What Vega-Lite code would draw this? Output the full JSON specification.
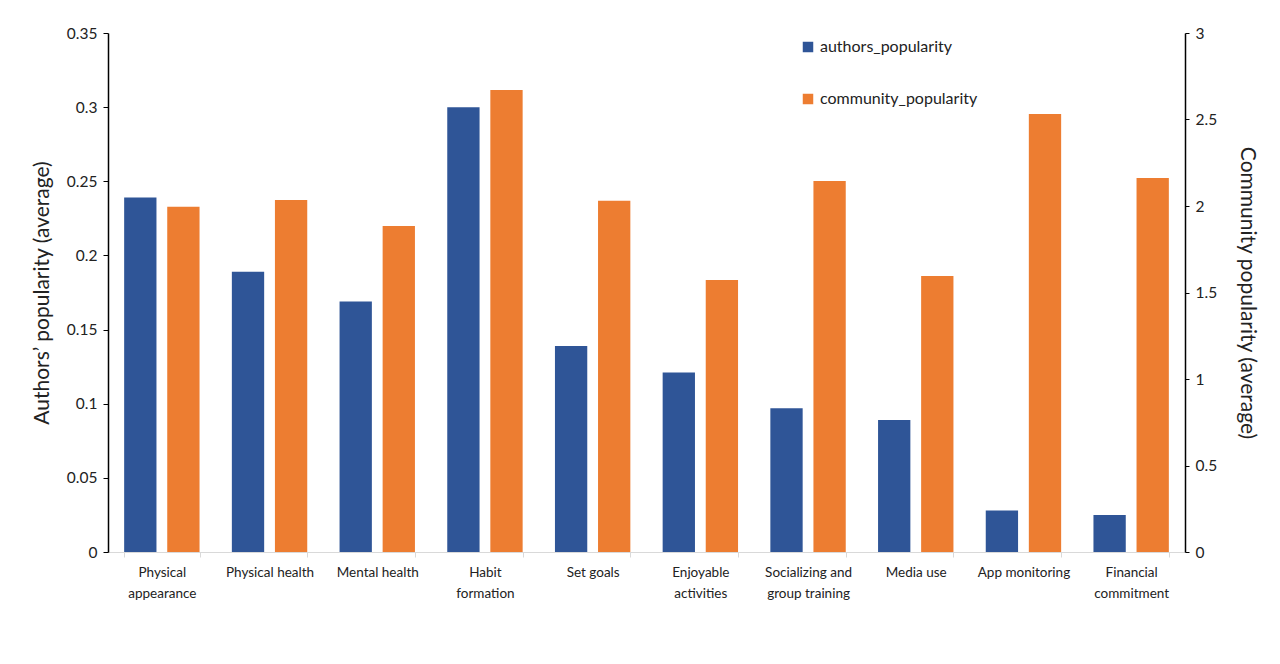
{
  "$schema": "https://vega.github.io/schema/vega-lite/v6.json",
  "autosize": {"type": "none"},
  "width": 1077,
  "height": 519,
  "padding": {"left": 108, "top": 33, "right": 95, "bottom": 112},
  "background": "white",
  "config": {
    "font": "Lato",
    "view": {"stroke": null},
    "axis": {"grid": false, "labelFont": "Lato", "titleFont": "Lato", "labelColor": "#222", "titleColor": "#222", "titleFontWeight": "normal"}
  },
  "data": {
    "values": [
      {"category": "Physical appearance", "series": "authors_popularity", "value": 0.239},
      {"category": "Physical health", "series": "authors_popularity", "value": 0.189},
      {"category": "Mental health", "series": "authors_popularity", "value": 0.169},
      {"category": "Habit formation", "series": "authors_popularity", "value": 0.300},
      {"category": "Set goals", "series": "authors_popularity", "value": 0.139},
      {"category": "Enjoyable activities", "series": "authors_popularity", "value": 0.121},
      {"category": "Socializing and group training", "series": "authors_popularity", "value": 0.097},
      {"category": "Media use", "series": "authors_popularity", "value": 0.089},
      {"category": "App monitoring", "series": "authors_popularity", "value": 0.028},
      {"category": "Financial commitment", "series": "authors_popularity", "value": 0.025},
      {"category": "Physical appearance", "series": "community_popularity", "value": 1.995},
      {"category": "Physical health", "series": "community_popularity", "value": 2.035},
      {"category": "Mental health", "series": "community_popularity", "value": 1.885},
      {"category": "Habit formation", "series": "community_popularity", "value": 2.67},
      {"category": "Set goals", "series": "community_popularity", "value": 2.03},
      {"category": "Enjoyable activities", "series": "community_popularity", "value": 1.572},
      {"category": "Socializing and group training", "series": "community_popularity", "value": 2.145},
      {"category": "Media use", "series": "community_popularity", "value": 1.595},
      {"category": "App monitoring", "series": "community_popularity", "value": 2.532},
      {"category": "Financial commitment", "series": "community_popularity", "value": 2.162}
    ]
  },
  "encoding": {
    "x": {
      "field": "category",
      "type": "nominal",
      "sort": null,
      "scale": {"paddingInner": 0.3, "paddingOuter": 0.15},
      "axis": {
        "title": null,
        "labelAngle": 0,
        "labelFontSize": 13.5,
        "labelPadding": 8,
        "labelLineHeight": 21,
        "tickBand": "extent",
        "tickColor": "#d9d9d9",
        "tickSize": 5,
        "domainColor": "#d9d9d9",
        "labelExpr": "datum.label == 'Physical appearance' ? ['Physical','appearance'] : datum.label == 'Habit formation' ? ['Habit','formation'] : datum.label == 'Enjoyable activities' ? ['Enjoyable','activities'] : datum.label == 'Socializing and group training' ? ['Socializing and','group training'] : datum.label == 'Financial commitment' ? ['Financial','commitment'] : datum.label"
      }
    },
    "xOffset": {
      "field": "series",
      "type": "nominal",
      "scale": {"domain": ["authors_popularity", "community_popularity"], "paddingInner": 0.25, "paddingOuter": 0}
    },
    "color": {
      "field": "series",
      "type": "nominal",
      "scale": {"domain": ["authors_popularity", "community_popularity"], "range": ["#2f5597", "#ed7d31"]},
      "legend": {
        "title": null,
        "orient": "none",
        "legendX": 692,
        "legendY": 6,
        "symbolType": "square",
        "symbolSize": 110,
        "labelFontSize": 16,
        "labelColor": "#222",
        "labelFont": "Lato",
        "rowPadding": 36,
        "labelOffset": 4
      }
    }
  },
  "layer": [
    {
      "transform": [{"filter": "datum.series == 'authors_popularity'"}],
      "mark": {"type": "bar"},
      "encoding": {
        "y": {
          "field": "value",
          "type": "quantitative",
          "scale": {"domain": [0, 0.35], "nice": false},
          "axis": {
            "title": "Authors’ popularity (average)",
            "titleFontSize": 21,
            "titlePadding": 14,
            "labelFontSize": 15.5,
            "labelPadding": 6,
            "values": [0, 0.05, 0.1, 0.15, 0.2, 0.25, 0.3, 0.35],
            "labelExpr": "datum.value == 0 ? '0' : format(datum.value, '.2~f')",
            "domainColor": "#000",
            "tickColor": "#000",
            "tickSize": 5,
            "domainWidth": 1.5
          }
        }
      }
    },
    {
      "transform": [{"filter": "datum.series == 'community_popularity'"}],
      "mark": {"type": "bar"},
      "encoding": {
        "y": {
          "field": "value",
          "type": "quantitative",
          "scale": {"domain": [0, 3], "nice": false},
          "axis": {
            "orient": "right",
            "title": "Community popularity (average)",
            "titleFontSize": 21,
            "titleAngle": 90,
            "titlePadding": 20,
            "labelFontSize": 15.5,
            "labelPadding": 6,
            "values": [0, 0.5, 1, 1.5, 2, 2.5, 3],
            "labelExpr": "format(datum.value, '~g')",
            "domainColor": "#000",
            "tickColor": "#000",
            "tickSize": 4,
            "domainWidth": 1.5
          }
        }
      }
    }
  ],
  "resolve": {"scale": {"y": "independent"}}
}
